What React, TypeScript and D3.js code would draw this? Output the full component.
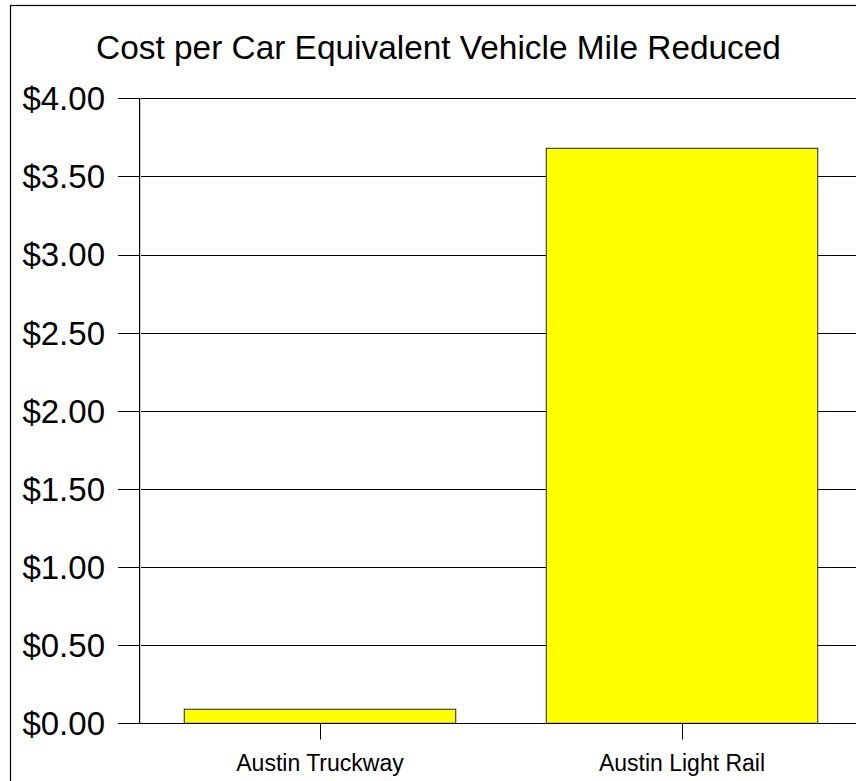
import React from "react";
import * as d3 from "d3";

const categories = ["Austin Truckway", "Austin Light Rail"];
const values = [0.09, 3.68];
const yTicks = [0, 0.5, 1, 1.5, 2, 2.5, 3, 3.5, 4];
const title = "Cost per Car Equivalent Vehicle Mile Reduced";

export default function App() {
  const W = 856;
  const H = 781;
  const left = 139;
  const top = 98.3;
  const bottom = 723.3;
  const x = d3
    .scaleBand<string>()
    .domain(categories)
    .range([left, 863])
    .paddingInner(0.25)
    .paddingOuter(0.125);
  const y = d3.scaleLinear().domain([0, 4]).range([bottom, top]);
  const font = "'Liberation Sans', Arial, sans-serif";
  return (
    <svg
      width={W}
      height={H}
      style={{ position: "absolute", left: 0, top: 0, background: "#fff" }}
    >
      <rect x={0} y={0} width={W} height={H} fill="#fff" />
      <rect x={10.5} y={5.5} width={W + 20} height={H + 20} fill="none" stroke="#000" strokeWidth={1.2} />
      <text x={438.5} y={59} textAnchor="middle" fontFamily={font} fontSize={33.4} fill="#000">
        {title}
      </text>
      {yTicks.map((t) => (
        <g key={t}>
          <line x1={118} x2={W} y1={Math.round(y(t)) + 0.5} y2={Math.round(y(t)) + 0.5} stroke="#000" strokeWidth={1} />
          <text
            x={105}
            y={y(t)}
            dy="0.36em"
            textAnchor="end"
            fontFamily={font}
            fontSize={33}
            fill="#000"
          >
            {"$" + t.toFixed(2)}
          </text>
        </g>
      ))}
      <line x1={140.5} x2={140.5} y1={top} y2={bottom} stroke="#c8c8c8" strokeWidth={1} />
      <line x1={139.5} x2={139.5} y1={top} y2={bottom + 0.5} stroke="#000" strokeWidth={1} />
      {categories.map((c, i) => {
        const x0 = x(c)!;
        const bw = x.bandwidth();
        return (
          <g key={c}>
            <rect
              x={x0}
              y={y(values[i])}
              width={bw}
              height={y(0) - y(values[i])}
              fill="#ffff00"
              stroke="#222"
              strokeWidth={1}
            />
            <line
              x1={Math.round(x0 + bw / 2) + 0.5}
              x2={Math.round(x0 + bw / 2) + 0.5}
              y1={bottom}
              y2={739.5}
              stroke="#000"
              strokeWidth={1}
            />
            <text
              x={x0 + bw / 2}
              y={771}
              textAnchor="middle"
              fontFamily={font}
              fontSize={23}
              fill="#000"
            >
              {c}
            </text>
          </g>
        );
      })}
      <line x1={118} x2={W} y1={Math.round(y(0)) + 0.5} y2={Math.round(y(0)) + 0.5} stroke="#000" strokeWidth={1} />
    </svg>
  );
}
